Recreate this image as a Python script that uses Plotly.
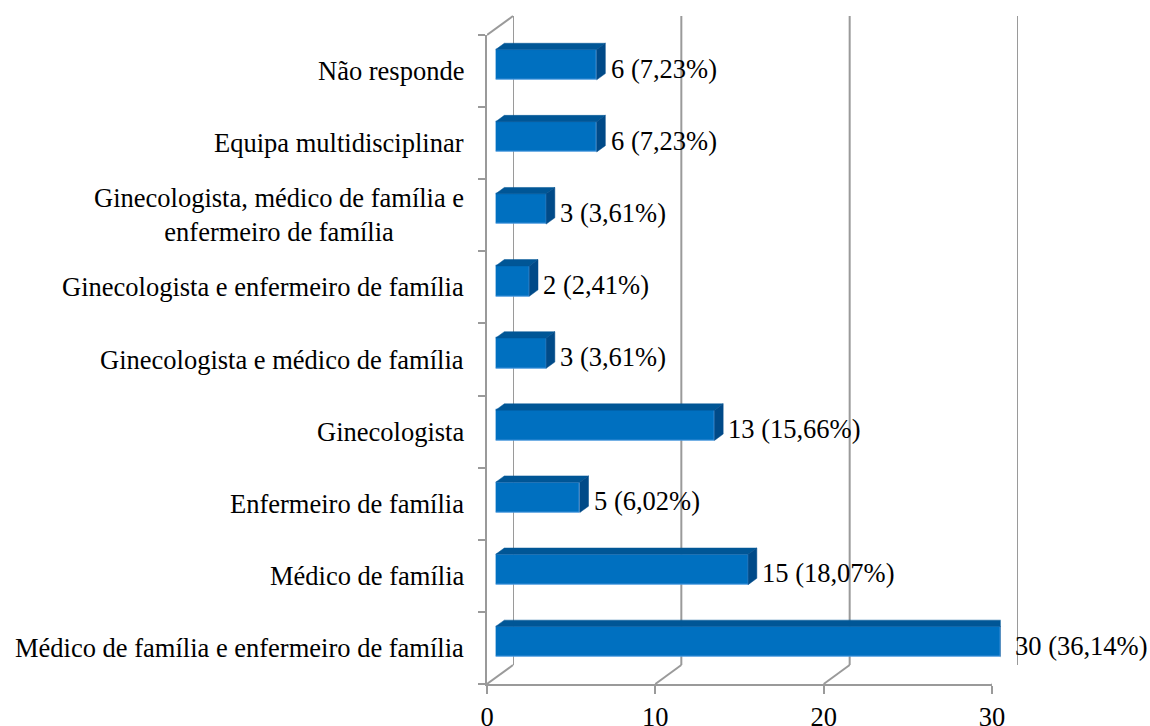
import plotly.graph_objects as go

# data (bottom to top, as drawn)
categories = [
    "Médico de família e enfermeiro de família",
    "Médico de família",
    "Enfermeiro de família",
    "Ginecologista",
    "Ginecologista e médico de família",
    "Ginecologista e enfermeiro de família",
    "Ginecologista, médico de família e<br>enfermeiro de família",
    "Equipa multidisciplinar",
    "Não responde",
]
counts = [30, 15, 5, 13, 3, 2, 3, 6, 6]
percents = ["36,14", "18,07", "6,02", "15,66", "3,61", "2,41", "3,61", "7,23", "7,23"]
x_ticks = [0, 10, 20, 30]

# page geometry (pixels)
W, H = 1150, 726
FX0, FX1 = 487, 992      # front plane, x = 0 .. 30
FY0, FY1 = 35, 684       # front plane, top .. bottom
DX, DY = 26, 19          # depth of the 3D box
XMAX = 30

FONT = '"Liberation Serif", "Times New Roman", Times, serif'
FSIZE = 26.5
GRID = "#9a9a9a"
FRONT = "#0070c0"
TOP = "#005696"
SIDE = "#004a88"


def domains(k):
    # plane at fraction k of the depth
    sx, sy = DX * k, DY * k
    xd = [(FX0 + sx) / W, (FX1 + sx) / W]
    yd = [(H - (FY1 - sy)) / H, (H - (FY0 - sy)) / H]
    return xd, yd


xd1, yd1 = domains(0)
xd2, yd2 = domains(1)
xd3, yd3 = domains(1 / 3)

pos = list(range(len(categories)))
bar_w = 0.42
band = (FY1 - FY0) / len(categories)
half_h = bar_w / 2 * band
bdx, bdy = DX / 3, DY / 3
units_per_px = XMAX / (FX1 - FX0)

fig = go.Figure()

# invisible trace so the front category axis knows its categories
fig.add_trace(go.Scatter(x=counts, y=categories, mode="markers",
                         marker=dict(opacity=0), hoverinfo="skip",
                         showlegend=False, xaxis="x", yaxis="y"))

# bars (front faces)
fig.add_trace(go.Bar(
    x=counts, y=pos, orientation="h", width=bar_w,
    marker=dict(color=FRONT, line=dict(color="#4f9be0", width=1)),
    showlegend=False, xaxis="x3", yaxis="y3",
))

shapes = []

# back wall gridlines
for t in x_ticks:
    shapes.append(dict(type="line", xref="x2", yref="y2 domain",
                       x0=t, x1=t, y0=0, y1=1, layer="below",
                       line=dict(color=GRID, width=2)))
    # floor diagonals
    shapes.append(dict(type="line", xref="x", yref="y domain",
                       xsizemode="pixel", xanchor=t, ysizemode="pixel", yanchor=0,
                       x0=0, x1=DX, y0=0, y1=DY, layer="below",
                       line=dict(color=GRID, width=2)))
# left wall top diagonal
shapes.append(dict(type="line", xref="x", yref="y domain",
                   xsizemode="pixel", xanchor=0, ysizemode="pixel", yanchor=1,
                   x0=0, x1=DX, y0=0, y1=DY, layer="below",
                   line=dict(color=GRID, width=2)))

# 3D faces of the bars
for v, p in zip(counts, pos):
    s = bdx * units_per_px
    shapes.append(dict(
        type="path", xref="x3", yref="y3", ysizemode="pixel", yanchor=p,
        path=f"M 0,{half_h} L {v},{half_h} L {v + s},{half_h + bdy} L {s},{half_h + bdy} Z",
        fillcolor=TOP, line=dict(color=TOP, width=0.5), layer="above"))
    shapes.append(dict(
        type="path", xref="x3", yref="y3", xsizemode="pixel", xanchor=v,
        ysizemode="pixel", yanchor=p,
        path=f"M 0,{-half_h} L 0,{half_h} L {bdx},{half_h + bdy} L {bdx},{-half_h + bdy} Z",
        fillcolor=SIDE, line=dict(color=SIDE, width=0.5), layer="above"))

annotations = []
# category labels (centred multi-line text, right edge near the axis)
for c, p in zip(categories, pos):
    annotations.append(dict(
        text=c, xref="paper", yref="y", x=(FX0 - 21) / W, y=p,
        xanchor="right", yanchor="middle", align="center", showarrow=False,
        font=dict(family=FONT, size=FSIZE, color="black")))
# data labels
for v, p, pc in zip(counts, pos, percents):
    annotations.append(dict(
        text=f"{v} ({pc}%)", xref="x3", yref="y3", x=v, y=p,
        xanchor="left", yanchor="middle", xshift=12, yshift=-4,
        showarrow=False, font=dict(family=FONT, size=FSIZE, color="black")))

hidden = dict(range=[0, XMAX], visible=False, automargin=False)
hidden_y = dict(range=[-0.5, len(categories) - 0.5], visible=False, automargin=False)

fig.update_layout(
    width=W, height=H, autosize=False,
    margin=dict(l=0, r=0, t=0, b=0, pad=0, autoexpand=False),
    paper_bgcolor="white", plot_bgcolor="rgba(0,0,0,0)",
    showlegend=False, bargap=0,
    font=dict(family=FONT, size=FSIZE, color="black"),
    xaxis=dict(domain=xd1, range=[0, XMAX], anchor="y", automargin=False,
               tickvals=x_ticks, ticks="outside", ticklen=8, tickwidth=2,
               tickcolor=GRID, showline=True, linecolor=GRID, linewidth=2,
               showgrid=False, zeroline=False,
               tickfont=dict(family=FONT, size=FSIZE, color="black")),
    yaxis=dict(domain=yd1, type="category", categoryorder="array",
               categoryarray=categories, range=[-0.5, len(categories) - 0.5],
               anchor="x", automargin=False, tickson="boundaries",
               ticks="outside", ticklen=7, tickwidth=2, tickcolor=GRID,
               showline=True, linecolor=GRID, linewidth=2, showgrid=False,
               showticklabels=False),
    xaxis2=dict(domain=xd2, anchor="y2", **hidden),
    yaxis2=dict(domain=yd2, anchor="x2", **hidden_y),
    xaxis3=dict(domain=xd3, anchor="y3", **hidden),
    yaxis3=dict(domain=yd3, anchor="x3", **hidden_y),
    shapes=shapes,
    annotations=annotations,
)

fig.write_html("out.html",
               config={"displayModeBar": False},
               post_script="document.body.style.margin='0';"
                           "document.body.style.overflow='hidden';")
